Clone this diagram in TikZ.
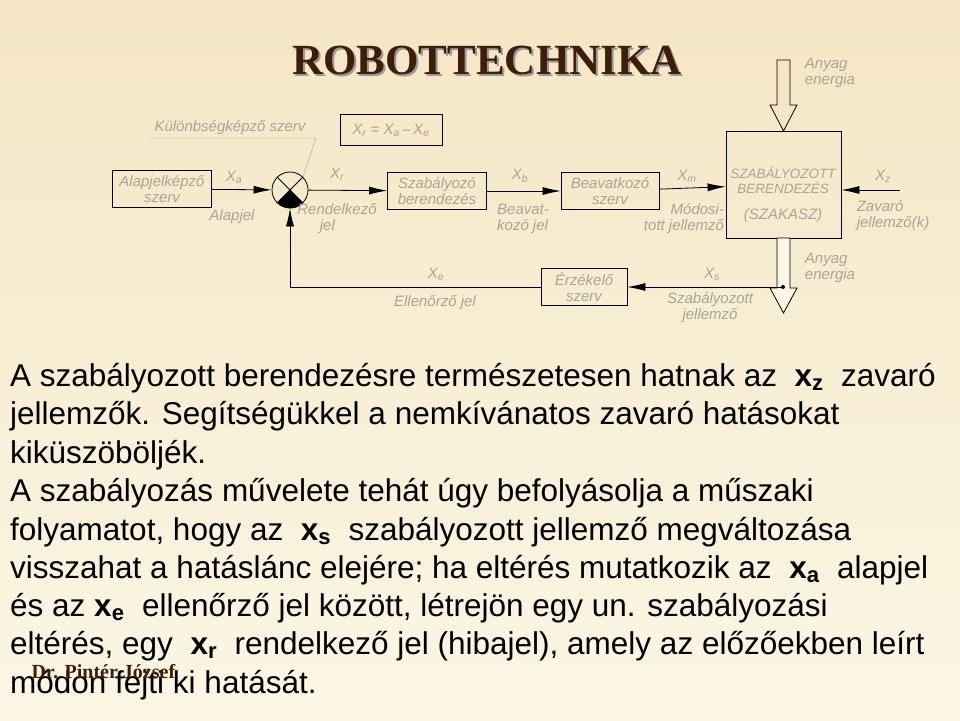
\documentclass[tikz,border=0pt]{standalone}
\usepackage{fontspec}
\setmainfont{Liberation Sans}
\newfontfamily\titlefont{Liberation Serif}
\usetikzlibrary{arrows.meta}
\usetikzlibrary{positioning}
\usetikzlibrary{calc}
\definecolor{bgtop}{RGB}{244,230,196}
\definecolor{bgbot}{RGB}{251,246,228}
\definecolor{lbl}{RGB}{170,164,152}
\definecolor{titlec}{RGB}{62,30,8}
\tikzset{blk/.style={draw,thick,minimum height=37pt,inner sep=2pt,font=\fontsize{15}{16}\selectfont\itshape,text=lbl,align=center},
  lab/.style={font=\fontsize{15}{16}\selectfont\itshape,text=lbl,align=left,inner sep=1pt},
  sig/.style={thick,-{Latex[length=18pt,width=8pt]}},
  para/.style={font=\fontsize{31.5}{33}\selectfont,anchor=west,inner sep=0pt}}
\newcommand{\bx}[2]{{\bfseries #1\textsubscript{#2}}}
\newcommand{\sx}[1]{X\textsubscript{#1}}
\begin{document}
\begin{tikzpicture}[x=1pt,y=-1pt]
\shade[top color=bgtop,bottom color=bgbot] (0,0) rectangle (960,720);
\useasboundingbox (0,0) rectangle (960,720);
% cim
\node[font=\titlefont\bfseries\fontsize{43}{45}\selectfont,text=black!40] at (489,62) {ROBOTTECHNIKA};
\node[font=\titlefont\bfseries\fontsize{43}{45}\selectfont,text=titlec] (title) at (487,60) {ROBOTTECHNIKA};
% blokkok
\node[blk,minimum width=99pt] (alap) at (162,189) {Alapjelképző\\szerv};
\node[draw,thick,circle,minimum size=36pt,inner sep=0pt] (sum) at (290,190) {};
\fill (sum.center) -- (sum.-45) arc (-45:-135:18pt) -- cycle;
\draw[thick] (sum.45) -- (sum.-135) (sum.135) -- (sum.-45);
\node[blk,minimum width=99pt] (szab) at (437,191) {Szabályozó\\berendezés};
\node[blk,minimum width=98pt] (beav) at (610,191) {Beavatkozó\\szerv};
\node[draw,thick,minimum width=115pt,minimum height=107pt] (plant) at (783.5,184.5) {};
\node[lab,align=center,font=\fontsize{13.5}{15}\selectfont\itshape] at (783,180) {SZABÁLYOZOTT\\BERENDEZÉS};
\node[lab] at (783,216) {(SZAKASZ)};
\node[blk,minimum width=86pt] (erz) at (584,287) {Érzékelő\\szerv};
\node[blk,minimum width=102pt,minimum height=31pt] (keplet) at (391,130) {\sx{r} = \sx{a}\,--\,\sx{e}};
% jelek
\draw[sig] (alap) -- (sum);
\draw[sig] (sum) -- (szab);
\draw[sig] (szab) -- (beav);
\draw[sig] (beav) -- (plant);
\coordinate (zin) at (900,190);
\draw[sig] (zin) -- (plant.east |- zin);
% anyag, energia
\draw[thick,fill=bgtop] (777,60) -- (790,60) -- (790,105) -- (797,105) -- (783.5,131) -- (770,105) -- (777,105) -- cycle;
\draw[thick,fill=bgbot] (777,238) -- (790,238) -- (790,288) -- (797,288) -- (783.5,313) -- (770,288) -- (777,288) -- cycle;
\coordinate (mer) at (783,287);
\draw[sig] (mer) -- (erz);
\fill (mer) circle (2pt);
\draw[sig] (erz.west) -- (290,287) -- (sum.south);
% feliratok
\node[lab] (kul) at (230,128) {Különbségképző szerv};
\draw[lbl] (148,138) -- (316,138) -- (sum.45);
\node[lab] at (234,177) {\sx{a}};
\node[lab] at (232,217) {Alapjel};
\node[lab] at (337,174) {\sx{r}};
\node[lab] at (337,219) {Rendelkező\\\hspace*{1.5em}jel};
\node[lab] at (520,176) {\sx{b}};
\node[lab] at (523,219) {Beavat-\\kozó jel};
\node[lab] at (687,176) {\sx{m}};
\node[lab,align=right] at (684,219) {Módosi-\\tott jellemző};
\node[lab] at (883,176) {\sx{z}};
\node[lab] at (893,216) {Zavaró\\jellemző(k)};
\node[lab] at (830,73) {Anyag\\energia};
\node[lab] at (830,268) {Anyag\\energia};
\node[lab] at (436,274) {\sx{e}};
\node[lab] at (435,303) {Ellenőrző jel};
\node[lab] at (712,274) {\sx{s}};
\node[lab,align=center] at (710,308) {Szabályozott\\jellemző};
% szoveg
\node[para] (t1) at (10,378) {A szabályozott berendezésre természetesen hatnak az \ \bx{x}{z} \ zavaró};
\node[para] (t2) at (10,416) {jellemzők. Segítségükkel a nemkívánatos zavaró hatásokat};
\node[para] (t3) at (10,455) {kiküszöböljék.};
\node[para] (t4) at (10,493) {A szabályozás művelete tehát úgy befolyásolja a műszaki};
\node[para] (t5) at (10,532) {folyamatot, hogy az \ \bx{x}{s} \ szabályozott jellemző megváltozása};
\node[para] (t6) at (10,570) {visszahat a hatáslánc elejére; ha eltérés mutatkozik az \ \bx{x}{a} \ alapjel};
\node[para] (t7) at (10,608) {és az \bx{x}{e} \ ellenőrző jel között, létrejön egy un. szabályozási};
\node[para] (t8) at (10,646) {eltérés, egy \ \bx{x}{r} \ rendelkező jel (hibajel), amely az előzőekben leírt};
\node[para] (t9) at (10,685) {módon fejti ki hatását.};
\node[font=\titlefont\bfseries\fontsize{20}{22}\selectfont,text=titlec,anchor=west] (szerzo) at (28,672) {Dr. Pintér József};
\end{tikzpicture}
\end{document}
